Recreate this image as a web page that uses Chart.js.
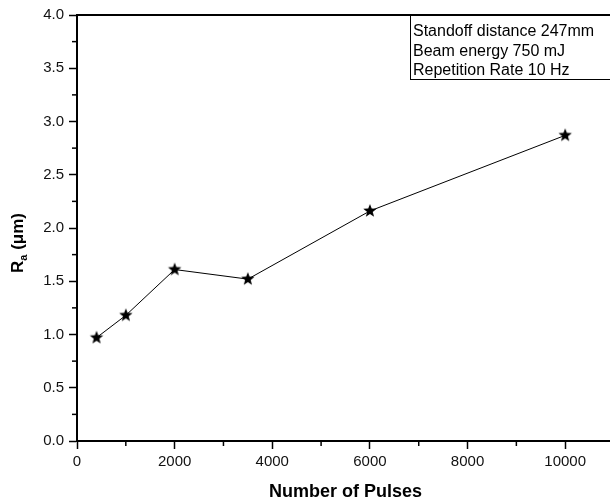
<!DOCTYPE html>
<html>
<head>
<meta charset="utf-8">
<script src="https://cdn.jsdelivr.net/npm/chart.js@4"></script>
<style>
  html, body { margin: 0; padding: 0; background: #fff; overflow: hidden; }
  #wrap { width: 622px; height: 504px; }
</style>
</head>
<body>
<div id="wrap"><canvas id="chart" width="622" height="504"></canvas></div>
<script>
// dados
const pulses = [400, 1000, 2000, 3500, 6000, 10000];
const roughness = [0.97, 1.18, 1.61, 1.52, 2.16, 2.87];
const xTicks = [0, 2000, 4000, 6000, 8000, 10000];
const yTicks = [0, 0.5, 1, 1.5, 2, 2.5, 3, 3.5, 4];
const noteLines = ['Standoff distance 247mm', 'Beam energy 750 mJ', 'Repetition Rate 10 Hz'];
const xTitle = 'Number of Pulses';

const FONT = '"Liberation Sans", Arial, sans-serif';

// estrela preenchida para os marcadores
const makeStar = (r) => {
    const c = document.createElement('canvas');
    c.width = c.height = r * 2 + 2;
    const g = c.getContext('2d');
    g.fillStyle = '#000';
    g.beginPath();
    for (let i = 0; i < 10; i++) {
        const rad = i % 2 === 0 ? r : r * 0.42;
        const a = -Math.PI / 2 + i * Math.PI / 5;
        g.lineTo(r + 1 + rad * Math.cos(a), r + 1 + rad * Math.sin(a));
    }
    g.closePath();
    g.fill();
    return c;
};
const star = makeStar(7);

// moldura, ticks menores, título do eixo y e caixa de texto
const extras = {
    id: 'extras',
    afterDraw(chart) {
        const { ctx, chartArea: a, scales } = chart;
        ctx.save();
        ctx.strokeStyle = '#000';
        ctx.lineWidth = 2;
        ctx.beginPath();
        ctx.moveTo(a.left, a.top); ctx.lineTo(a.right, a.top); ctx.lineTo(a.right, a.bottom);
        ctx.stroke();

        // ticks menores
        ctx.lineWidth = 1.5;
        const xt = scales.x.ticks.map(t => t.value);
        for (let i = 0; i < xt.length; i++) {
            const v = xt[i] + (xt[1] - xt[0]) / 2;
            if (v >= scales.x.max) continue;
            const px = scales.x.getPixelForValue(v);
            ctx.beginPath(); ctx.moveTo(px, a.bottom); ctx.lineTo(px, a.bottom + 5); ctx.stroke();
        }
        const yt = scales.y.ticks.map(t => t.value);
        for (let i = 0; i < yt.length - 1; i++) {
            const py = scales.y.getPixelForValue((yt[i] + yt[i + 1]) / 2);
            ctx.beginPath(); ctx.moveTo(a.left, py); ctx.lineTo(a.left - 5, py); ctx.stroke();
        }

        // título do eixo y com subscrito
        ctx.fillStyle = '#000';
        ctx.translate(23, 243);
        ctx.rotate(-Math.PI / 2);
        ctx.textBaseline = 'alphabetic';
        ctx.font = 'bold 17px ' + FONT;
        const wR = ctx.measureText('R').width;
        ctx.font = 'bold 11px ' + FONT;
        const wA = ctx.measureText('a').width;
        ctx.font = 'bold 17px ' + FONT;
        const wRest = ctx.measureText(' (\u03bcm)').width;
        let x0 = -(wR + wA + wRest) / 2;
        ctx.fillText('R', x0, 0);
        ctx.font = 'bold 11px ' + FONT;
        ctx.fillText('a', x0 + wR, 4);
        ctx.font = 'bold 17px ' + FONT;
        ctx.fillText(' (\u03bcm)', x0 + wR + wA, 0);
        ctx.restore();

        // caixa de anotação
        ctx.save();
        ctx.strokeStyle = '#000';
        ctx.lineWidth = 1;
        ctx.strokeRect(410.5, a.top, a.right - 410, 64.5);
        ctx.fillStyle = '#000';
        ctx.font = '16px ' + FONT;
        ctx.textBaseline = 'alphabetic';
        noteLines.forEach((t, i) => ctx.fillText(t, 413, a.top + 21 + i * 19.5));
        ctx.restore();
    }
};

new Chart(document.getElementById('chart'), {
    type: 'scatter',
    data: {
        datasets: [{
            data: pulses.map((p, i) => ({ x: p, y: roughness[i] })),
            showLine: true,
            borderColor: '#000',
            borderWidth: 1,
            pointStyle: star,
            pointRadius: 7,
            pointHoverRadius: 7
        }]
    },
    options: {
        responsive: false,
        animation: false,
        layout: { padding: { top: 15, right: 4, left: 0, bottom: 0 } },
        plugins: { legend: { display: false }, tooltip: { enabled: false } },
        scales: {
            x: {
                type: 'linear', min: 0, max: 11000,
                afterFit: (s) => { s.height = 63; },
                afterBuildTicks: (s) => { s.ticks = xTicks.map(v => ({ value: v })); },
                ticks: { color: '#111', padding: 4, maxRotation: 0, autoSkip: false, callback: (v) => String(v), font: { family: FONT, size: 15 } },
                grid: { drawOnChartArea: false, tickLength: 8, tickColor: '#000', tickWidth: 1.5 },
                border: { color: '#000', width: 2 },
                title: { display: true, text: xTitle, color: '#000', padding: { top: 0, bottom: 1 }, font: { family: FONT, size: 18, weight: 'bold' } }
            },
            y: {
                min: 0, max: 4,
                afterFit: (s) => { s.width = 77; },
                afterBuildTicks: (s) => { s.ticks = yTicks.map(v => ({ value: v })); },
                ticks: { color: '#111', padding: 5, autoSkip: false, callback: (v) => v.toFixed(1), font: { family: FONT, size: 15 } },
                grid: { drawOnChartArea: false, tickLength: 8, tickColor: '#000', tickWidth: 1.5 },
                border: { color: '#000', width: 2 }
            }
        }
    },
    plugins: [extras]
});
</script>
</body>
</html>
